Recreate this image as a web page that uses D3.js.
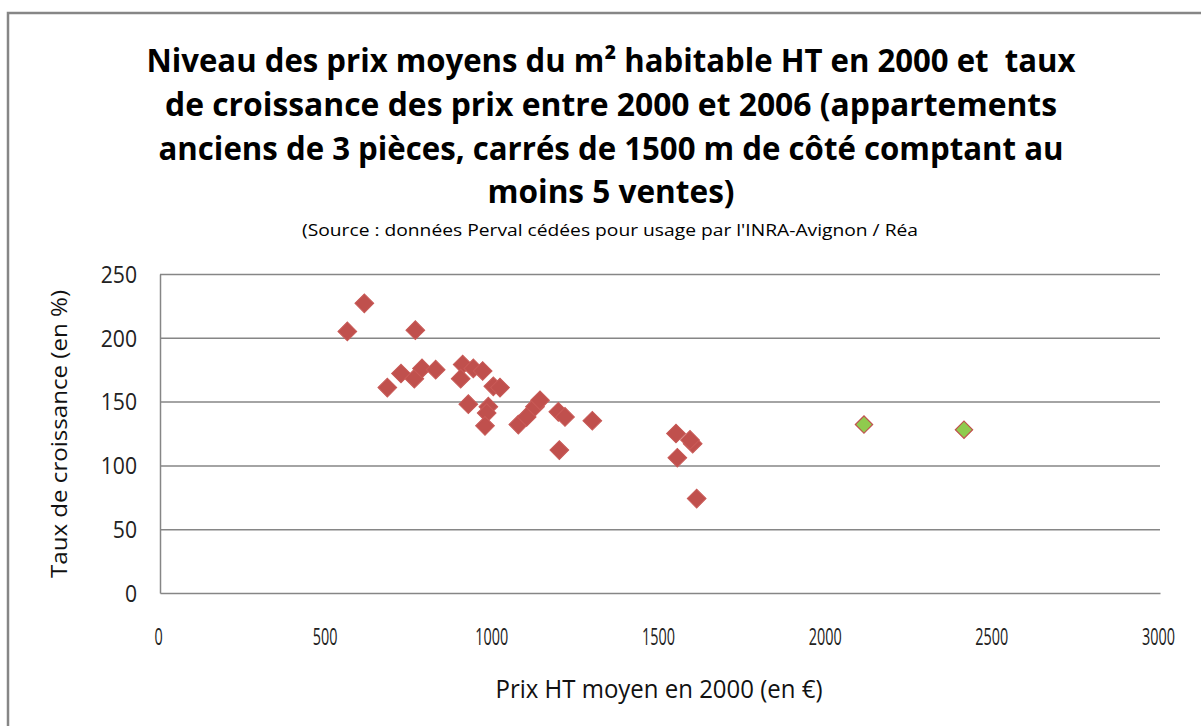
<!DOCTYPE html>
<html>
<head>
<meta charset="utf-8">
<script src="https://cdn.jsdelivr.net/npm/d3@7"></script>
<style>
  html, body { margin: 0; padding: 0; background: #fff; }
  svg { display: block; }
  text { font-family: "Open Sans", "Noto Sans", sans-serif; }
</style>
</head>
<body>
<svg id="chart" width="1201" height="726"></svg>
<script>
// Prix HT moyen en 2000 (€/m²) et taux de croissance 2000-2006 (%)
const priceMain = [562, 613, 766, 682, 723, 763, 786, 827, 908, 902, 940, 968, 1000, 1020,
                   925, 985, 980, 975, 1075, 1100, 1125, 1140, 1195, 1215, 1297, 1198,
                   1548, 1598, 1590, 1552, 1610];
const growthMain = [205, 227, 206, 161, 172, 168, 176, 175, 179, 168, 176, 174, 162, 161,
                    148, 146, 141, 131, 132, 138, 146, 151, 142, 138, 135, 112,
                    125, 117, 120, 106, 74];
// Carrés les plus chers
const priceHigh = [2112, 2412];
const growthHigh = [132, 128];

const xTicks = [0, 500, 1000, 1500, 2000, 2500, 3000];
const yTicks = [0, 50, 100, 150, 200, 250];

const titleLines = [
  "Niveau des prix moyens du m² habitable HT en 2000 et  taux",
  "de croissance des prix entre 2000 et 2006 (appartements",
  "anciens de 3 pièces, carrés de 1500 m de côté comptant au",
  "moins 5 ventes)"
];
const sourceText = "(Source : données Perval cédées pour usage par l'INRA-Avignon / Réa";
const xTitle = "Prix HT moyen en 2000 (en €)";
const yTitle = "Taux de croissance (en %)";

const svg = d3.select("#chart");
const W = 1201, H = 726;
const plot = { left: 160, right: 1160, top: 274, bottom: 593 };
const gridColor = "#868686";

svg.append("rect").attr("width", W).attr("height", H).attr("fill", "#fff");
// Chart frame
svg.append("rect")
  .attr("x", 8).attr("y", 13).attr("width", 1210).attr("height", 730)
  .attr("fill", "none").attr("stroke", gridColor).attr("stroke-width", 2.5);

const x = d3.scaleLinear().domain([0, 3000]).range([plot.left, plot.right]);
const y = d3.scaleLinear().domain([0, 250]).range([plot.bottom, plot.top]);

// Horizontal gridlines
svg.append("g")
  .attr("transform", `translate(${plot.left},0)`)
  .call(d3.axisLeft(y).tickValues(yTicks.filter(v => v > 0))
    .tickSize(-(plot.right - plot.left)).tickFormat(""))
  .call(g => g.select(".domain").remove())
  .call(g => g.selectAll("line").attr("stroke", gridColor).attr("stroke-width", 1.5));

// Condense text horizontally by a factor of its natural width
function condense(sel, factor) {
  sel.each(function () {
    const w = this.getComputedTextLength();
    d3.select(this).attr("textLength", w * factor).attr("lengthAdjust", "spacingAndGlyphs");
  });
}

// Y axis
const yAxis = svg.append("g")
  .attr("transform", `translate(${plot.left},0)`)
  .call(d3.axisLeft(y).tickValues(yTicks).tickSize(0).tickPadding(23).tickFormat(d3.format("d")));
yAxis.select(".domain").attr("stroke", gridColor).attr("stroke-width", 1.5);
yAxis.selectAll("text")
  .attr("font-size", 23).attr("fill", "#222")
  .attr("dy", "0.36em");
yAxis.selectAll("text").call(condense, 0.92);

// X axis
const xAxis = svg.append("g")
  .attr("transform", `translate(0,${plot.bottom})`)
  .call(d3.axisBottom(x).tickValues(xTicks).tickSize(0).tickPadding(0).tickFormat(d3.format("d")));
xAxis.select(".domain").attr("stroke", gridColor).attr("stroke-width", 1.5);
xAxis.selectAll("text")
  .attr("font-size", 24).attr("fill", "#222")
  .attr("dy", null).attr("y", 52)
  .attr("transform", "translate(-2,0)");
xAxis.selectAll("text").call(condense, 0.6);

// Axis titles
svg.append("text")
  .attr("x", 659).attr("y", 698)
  .attr("text-anchor", "middle").attr("font-size", 25).attr("fill", "#111")
  .attr("textLength", 327).attr("lengthAdjust", "spacingAndGlyphs")
  .text(xTitle);

svg.append("text")
  .attr("transform", "translate(67,434) rotate(-90)")
  .attr("text-anchor", "middle").attr("font-size", 22).attr("fill", "#111")
  .attr("textLength", 288).attr("lengthAdjust", "spacingAndGlyphs")
  .text(yTitle);

// Title
const titleWidths = [929, 892, 905, 247];
const titleBase = [72, 116, 160, 203];
svg.append("g").selectAll("text").data(titleLines).join("text")
  .attr("x", 611).attr("y", (d, i) => titleBase[i])
  .attr("text-anchor", "middle")
  .attr("font-size", 32).attr("font-weight", "bold").attr("fill", "#000")
  .style("white-space", "pre")
  .attr("textLength", (d, i) => titleWidths[i]).attr("lengthAdjust", "spacingAndGlyphs")
  .text(d => d);

svg.append("text")
  .attr("x", 610).attr("y", 236)
  .attr("text-anchor", "middle").attr("font-size", 17).attr("fill", "#000")
  .attr("textLength", 616).attr("lengthAdjust", "spacingAndGlyphs")
  .text(sourceText);

// Markers
const diamond = d3.symbol().type(d3.symbolSquare).size(176);
const mainPts = priceMain.map((p, i) => ({ p, g: growthMain[i] }));
const highPts = priceHigh.map((p, i) => ({ p, g: growthHigh[i] }));

svg.append("g").selectAll("path").data(mainPts).join("path")
  .attr("d", diamond)
  .attr("transform", d => `translate(${x(d.p)},${y(d.g)}) rotate(45)`)
  .attr("fill", "#C0504D").attr("stroke", "#C85A57").attr("stroke-width", 1);

svg.append("g").selectAll("path").data(highPts).join("path")
  .attr("d", d3.symbol().type(d3.symbolSquare).size(150))
  .attr("transform", d => `translate(${x(d.p)},${y(d.g)}) rotate(45)`)
  .attr("fill", "#8FCB4E").attr("stroke", "#C0504D").attr("stroke-width", 1.2);
</script>
</body>
</html>
